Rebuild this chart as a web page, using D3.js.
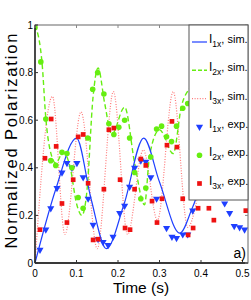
<!DOCTYPE html>
<html lang="en">

<head>
  <meta charset="UTF-8">
  <title></title>
  <script src="https://d3js.org/d3.v7.min.js"></script>
  <style>
    body {
      margin: 0;
      font-family: "Liberation Sans", Arial, sans-serif;
      background: #fff;
    }

    .tick-label {
      font-size: 10px;
    }
  </style>
</head>

<body>
  <div id="chart"></div>
</body>
<script>
  // simulated curves (key points)
  var simT1 = [0, 0.05, 0.1, 0.135, 0.172, 0.215, 0.262, 0.3, 0.349, 0.38, 0.43, 0.47, 0.513];
  var simV1 = [0, 0.31, 0.525, 0.27, 0.06, 0.25, 0.525, 0.34, 0.125, 0.235, 0.46, 0.47, 0.36];

  var simT2 = [0, 0.017, 0.026, 0.04, 0.05, 0.068, 0.085, 0.1, 0.113, 0.125, 0.14, 0.152, 0.168, 0.185,
    0.216, 0.24, 0.264, 0.276, 0.3, 0.333, 0.353, 0.373, 0.4, 0.43, 0.46, 0.49, 0.513];
  var simV2 = [1.0, 0.84, 0.61, 0.45, 0.42, 0.465, 0.4, 0.25, 0.2, 0.3, 0.7, 0.82, 0.67, 0.54,
    0.655, 0.42, 0.245, 0.45, 0.56, 0.46, 0.66, 0.735, 0.78, 0.7, 0.6, 0.65, 0.7];

  var simT3 = [0, 0.042, 0.072, 0.111, 0.15, 0.189, 0.223, 0.261, 0.295, 0.333, 0.368, 0.41, 0.45, 0.49, 0.513];
  var simV3 = [0, 0.70, 0.12, 0.635, 0.06, 0.72, 0.12, 0.475, 0.18, 0.72, 0.15, 0.42, 0.6, 0.45, 0.35];

  // experimental points
  var expT1 = [0.012, 0.026, 0.038, 0.053, 0.065, 0.077, 0.089, 0.101, 0.116, 0.128, 0.14, 0.152, 0.164, 0.176,
    0.188, 0.204, 0.216, 0.228, 0.24, 0.255, 0.267, 0.279, 0.293, 0.317, 0.33, 0.341, 0.356, 0.368, 0.38,
    0.457, 0.469, 0.48, 0.493, 0.505];
  var expV1 = [0.055, 0.14, 0.23, 0.315, 0.38, 0.42, 0.40, 0.42, 0.36, 0.27, 0.16, 0.10, 0.088, 0.075,
    0.11, 0.21, 0.24, 0.32, 0.40, 0.43, 0.425, 0.36, 0.27, 0.147, 0.11, 0.105, 0.12, 0.12, 0.22,
    0.25, 0.21, 0.155, 0.15, 0.14];

  var expT2 = [0, 0.014, 0.026, 0.038, 0.05, 0.065, 0.077, 0.089, 0.104, 0.116, 0.127, 0.139, 0.151, 0.166,
    0.178, 0.19, 0.202, 0.216, 0.228, 0.24, 0.255, 0.267, 0.279, 0.293, 0.305, 0.317, 0.329, 0.341, 0.356, 0.368];
  var expV2 = [0.99, 0.845, 0.605, 0.43, 0.41, 0.465, 0.46, 0.40, 0.275, 0.23, 0.525, 0.73, 0.80, 0.71,
    0.585, 0.54, 0.57, 0.60, 0.525, 0.38, 0.27, 0.315, 0.445, 0.563, 0.575, 0.53, 0.51, 0.575, 0.65, 0.67];

  var expT3 = [0.012, 0.024, 0.039, 0.051, 0.065, 0.077, 0.092, 0.104, 0.116, 0.128, 0.14, 0.152, 0.166,
    0.178, 0.19, 0.205, 0.217, 0.229, 0.24, 0.255, 0.267, 0.282, 0.294, 0.306, 0.318, 0.33, 0.342, 0.356,
    0.369, 0.381, 0.393, 0.419, 0.431, 0.508];
  var expV3 = [0.14, 0.44, 0.605, 0.49, 0.25, 0.17, 0.35, 0.53, 0.54, 0.335, 0.097, 0.10, 0.31,
    0.56, 0.567, 0.35, 0.147, 0.14, 0.31, 0.437, 0.41, 0.26, 0.17, 0.27, 0.495, 0.595, 0.487, 0.27,
    0.118, 0.147, 0.23, 0.23, 0.18, 0.22];

  var xTicks = [0, 0.1, 0.2, 0.3, 0.4, 0.5];
  var yTicks = [0, 0.2, 0.4, 0.6, 0.8, 1];
  var legendNames = ["1x", "2x", "3x", "1x", "2x", "3x"];
  var legendKinds = ["sim.", "sim.", "sim.", "exp.", "exp.", "exp."];

  var width = 251, height = 300;
  var blue = "#1f3fff", green = "#66ee11", red = "#ee1111", pink = "#ff7a7a";

  var svg = d3.select("#chart").append("svg")
    .attr("width", width)
    .attr("height", height);

  var x = d3.scaleLinear().domain([0, 0.5]).range([35, 242.5]);
  var y = d3.scaleLinear().domain([0, 1]).range([263, 25]);
  var x0 = x(0), x1 = 248, y0 = y(0), y1 = y(1);

  svg.append("clipPath").attr("id", "clip")
    .append("rect")
    .attr("x", x0).attr("y", y1)
    .attr("width", x1 - x0).attr("height", y0 - y1);

  function zip(ts, vs) {
    return ts.map(function (t, i) { return [t, vs[i]]; });
  }

  var line = d3.line()
    .x(function (d) { return x(d[0]); })
    .y(function (d) { return y(d[1]); })
    .curve(d3.curveMonotoneX);

  var plot = svg.append("g").attr("clip-path", "url(#clip)");

  plot.append("path").datum(zip(simT3, simV3))
    .attr("d", line).attr("fill", "none")
    .attr("stroke", pink).attr("stroke-width", 1.2)
    .attr("stroke-dasharray", "1,1.6");

  plot.append("path").datum(zip(simT2, simV2))
    .attr("d", line).attr("fill", "none")
    .attr("stroke", green).attr("stroke-width", 1.4)
    .attr("stroke-dasharray", "5,3");

  plot.append("path").datum(zip(simT1, simV1))
    .attr("d", line).attr("fill", "none")
    .attr("stroke", blue).attr("stroke-width", 1.2);

  var tri = d3.symbol().type(d3.symbolTriangle).size(22);
  var sq = d3.symbol().type(d3.symbolSquare).size(22);

  function drawTri(g, px, py) {
    g.append("path").attr("d", tri)
      .attr("transform", "translate(" + px + "," + py + ") rotate(180)")
      .attr("fill", blue);
  }
  function drawDot(g, px, py) {
    g.append("circle").attr("cx", px).attr("cy", py).attr("r", 2.8).attr("fill", green);
  }
  function drawSq(g, px, py) {
    g.append("path").attr("d", sq)
      .attr("transform", "translate(" + px + "," + py + ")")
      .attr("fill", red);
  }

  expT1.forEach(function (t, i) { drawTri(plot, x(t), y(expV1[i])); });
  expT2.forEach(function (t, i) { drawDot(plot, x(t), y(expV2[i])); });
  expT3.forEach(function (t, i) { drawSq(plot, x(t), y(expV3[i])); });

  // axes box and inner ticks
  var axes = svg.append("g");
  axes.append("rect")
    .attr("x", x0).attr("y", y1)
    .attr("width", x1 - x0).attr("height", y0 - y1)
    .attr("fill", "none").attr("stroke", "#666").attr("stroke-width", 1);
  axes.append("line").attr("x1", x0).attr("x2", x0).attr("y1", y1).attr("y2", y0)
    .attr("stroke", "#111").attr("stroke-width", 1.3);
  axes.append("line").attr("x1", x0).attr("x2", x1).attr("y1", y0).attr("y2", y0)
    .attr("stroke", "#111").attr("stroke-width", 1.3);

  xTicks.forEach(function (t) {
    axes.append("line").attr("x1", x(t)).attr("x2", x(t)).attr("y1", y0).attr("y2", y0 - 3).attr("stroke", "#333");
    axes.append("line").attr("x1", x(t)).attr("x2", x(t)).attr("y1", y1).attr("y2", y1 + 3).attr("stroke", "#888");
    axes.append("text").attr("class", "tick-label")
      .attr("x", x(t)).attr("y", 277)
      .attr("text-anchor", "middle")
      .text(t);
  });
  yTicks.forEach(function (v) {
    axes.append("line").attr("x1", x0).attr("x2", x0 + 3).attr("y1", y(v)).attr("y2", y(v)).attr("stroke", "#333");
    axes.append("line").attr("x1", x1).attr("x2", x1 - 3).attr("y1", y(v)).attr("y2", y(v)).attr("stroke", "#888");
    axes.append("text").attr("class", "tick-label")
      .attr("x", 33).attr("y", y(v) + 3.5)
      .attr("text-anchor", "end")
      .text(v);
  });

  svg.append("text")
    .attr("transform", "translate(17,141) rotate(-90)")
    .attr("text-anchor", "middle")
    .attr("font-size", 16.5)
    .attr("textLength", 215).attr("lengthAdjust", "spacing")
    .text("Normalized Polarization");

  svg.append("text")
    .attr("x", 141).attr("y", 293)
    .attr("text-anchor", "middle")
    .attr("font-size", 15.5)
    .text("Time (s)");

  svg.append("text")
    .attr("x", 246).attr("y", 258)
    .attr("text-anchor", "end")
    .attr("font-size", 14)
    .text("a)");

  // legend
  var leg = svg.append("g");
  leg.append("rect")
    .attr("x", 189).attr("y", y1)
    .attr("width", x1 - 189).attr("height", 175)
    .attr("fill", "#fff").attr("stroke", "#555");

  var rowY = d3.range(6).map(function (i) { return 42 + i * 28.3; });

  leg.append("line").attr("x1", 192).attr("x2", 207).attr("y1", rowY[0]).attr("y2", rowY[0])
    .attr("stroke", blue).attr("stroke-width", 1.2);
  leg.append("line").attr("x1", 192).attr("x2", 207).attr("y1", rowY[1]).attr("y2", rowY[1])
    .attr("stroke", green).attr("stroke-width", 1.4).attr("stroke-dasharray", "4,2");
  leg.append("line").attr("x1", 192).attr("x2", 207).attr("y1", rowY[2]).attr("y2", rowY[2])
    .attr("stroke", pink).attr("stroke-width", 1.2).attr("stroke-dasharray", "1,1.6");
  drawTri(leg, 199.5, rowY[3]);
  drawDot(leg, 199.5, rowY[4]);
  drawSq(leg, 199.5, rowY[5]);

  rowY.forEach(function (ry, i) {
    var t = leg.append("text").attr("x", 209).attr("y", ry + 1).attr("font-size", 11);
    t.append("tspan").attr("font-size", 12).text("I");
    t.append("tspan").attr("font-size", 8.5).attr("dy", 4).text(legendNames[i]);
    t.append("tspan").attr("dy", -4).text(", " + legendKinds[i]);
  });
</script>

</html>
